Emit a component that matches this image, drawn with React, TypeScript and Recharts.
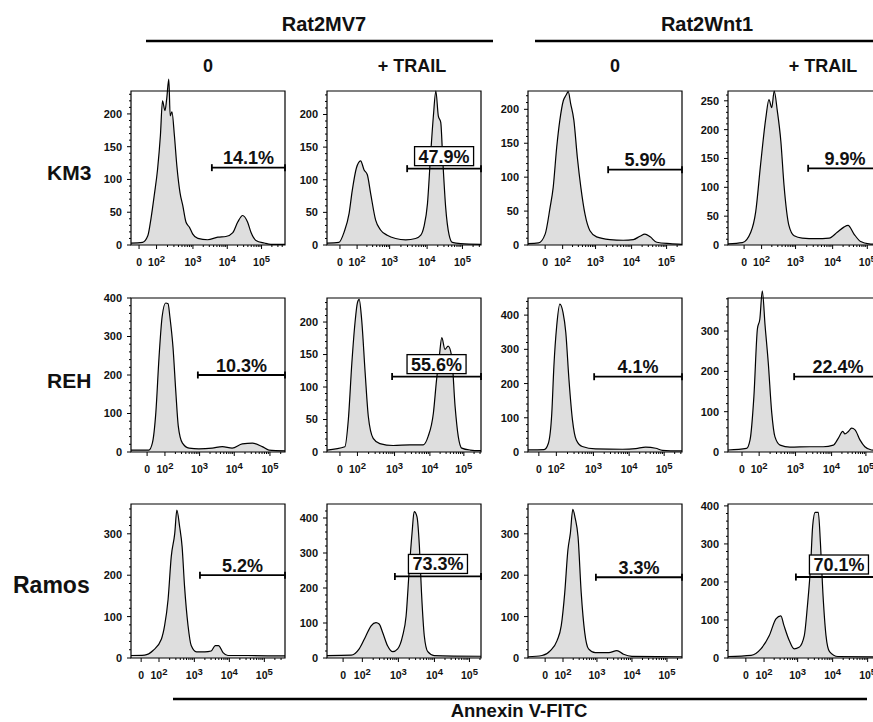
import React from 'react';
import { AreaChart, Area, XAxis, YAxis, ReferenceLine, ReferenceArea } from 'recharts';

// ---------- categories / labels ----------
const cellLines = ['KM3', 'REH', 'Ramos'];
const donors = ['Rat2MV7', 'Rat2Wnt1'];
const treatments = ['0', '+ TRAIL', '0', '+ TRAIL'];
const xAxisTitle = 'Annexin V-FITC';
const xTickExponents = ['0', '2', '3', '4', '5'];

// ---------- histogram data: [channel, count] ----------
const km3MV7Ctrl = [[1.2,3],[1.53,4],[1.68,14],[1.77,40],[1.87,78],[1.96,116],[2.04,167],[2.1,220],[2.17,205],[2.22,223],[2.28,253],[2.32,197],[2.37,203],[2.44,167],[2.51,121],[2.6,80],[2.68,60],[2.77,35],[2.87,27],[2.96,17],[3.11,10],[3.39,8],[3.68,12],[3.91,13],[4.11,19],[4.25,35],[4.39,45],[4.53,35],[4.63,19],[4.77,7],[5.01,3],[5.2,1],[5.6,1]];
const km3MV7Trail = [[1.2,3],[1.54,4],[1.69,20],[1.83,48],[1.92,83],[2.04,118],[2.16,129],[2.26,115],[2.35,108],[2.45,78],[2.59,38],[2.73,23],[2.92,15],[3.16,10],[3.45,8],[3.73,10],[3.88,15],[3.97,28],[4.07,63],[4.16,138],[4.24,198],[4.31,236],[4.38,198],[4.45,188],[4.51,128],[4.59,58],[4.69,15],[4.78,4],[5.02,2],[5.6,1]];
const km3Wnt1Ctrl = [[1.2,2],[1.5,3],[1.69,16],[1.83,55],[1.92,85],[2.02,144],[2.11,184],[2.21,213],[2.29,221],[2.35,226],[2.42,208],[2.51,184],[2.61,129],[2.71,85],[2.83,45],[2.97,21],[3.16,12],[3.54,8],[3.92,7],[4.21,8],[4.4,13],[4.54,16],[4.69,12],[4.88,4],[5.26,2],[5.6,1]];
const km3Wnt1Trail = [[1.2,2],[1.61,4],[1.85,22],[1.99,57],[2.13,139],[2.28,220],[2.37,252],[2.45,238],[2.52,267],[2.61,232],[2.71,180],[2.8,104],[2.94,34],[3.09,16],[3.32,12],[3.71,11],[4.09,12],[4.32,22],[4.51,31],[4.63,34],[4.8,19],[4.99,6],[5.23,2],[5.6,1]];
const rehMV7Ctrl = [[1.2,5],[1.71,5],[1.81,23],[1.91,103],[2.0,245],[2.09,352],[2.19,387],[2.26,385],[2.31,352],[2.4,272],[2.48,157],[2.55,68],[2.67,23],[2.86,10],[3.14,8],[3.52,10],[3.81,14],[4.09,10],[4.38,21],[4.67,23],[4.95,14],[5.14,5],[5.6,3]];
const rehMV7Trail = [[1.2,3],[1.71,8],[1.81,50],[1.91,137],[2.0,199],[2.07,230],[2.12,235],[2.19,204],[2.29,122],[2.38,55],[2.52,21],[2.71,13],[3.09,10],[3.57,11],[3.95,11],[4.09,24],[4.24,60],[4.33,111],[4.41,148],[4.48,176],[4.57,158],[4.66,163],[4.76,148],[4.86,70],[4.95,24],[5.05,6],[5.29,3],[5.6,2]];
const rehWnt1Ctrl = [[1.2,6],[1.66,7],[1.78,25],[1.88,114],[1.94,251],[2.02,368],[2.11,432],[2.2,408],[2.28,349],[2.37,212],[2.47,94],[2.58,35],[2.75,16],[3.13,9],[3.9,8],[4.28,10],[4.56,14],[4.85,11],[5.04,5],[5.6,3]];
const rehWnt1Trail = [[1.2,5],[1.73,9],[1.83,30],[1.94,138],[2.04,305],[2.11,330],[2.18,400],[2.26,313],[2.35,222],[2.45,97],[2.54,38],[2.69,17],[2.97,12],[3.54,13],[3.92,13],[4.21,17],[4.35,34],[4.48,51],[4.54,45],[4.64,51],[4.73,59],[4.83,55],[4.97,30],[5.11,13],[5.3,5],[5.6,3]];
const ramosMV7Ctrl = [[1.2,6],[1.59,7],[1.83,18],[2.07,46],[2.16,78],[2.26,142],[2.35,245],[2.45,301],[2.51,357],[2.59,317],[2.66,269],[2.73,173],[2.83,78],[2.92,30],[3.07,15],[3.31,15],[3.49,17],[3.61,30],[3.7,30],[3.83,13],[3.97,6],[4.54,6],[5.6,5]];
const ramosMV7Trail = [[1.2,7],[1.89,8],[2.12,26],[2.31,63],[2.46,92],[2.6,101],[2.69,97],[2.79,73],[2.93,35],[3.08,18],[3.22,26],[3.36,63],[3.46,120],[3.55,253],[3.63,357],[3.69,418],[3.77,404],[3.84,319],[3.9,187],[3.98,63],[4.08,18],[4.26,7],[5.6,5]];
const ramosWnt1Ctrl = [[1.2,3],[1.6,6],[1.84,18],[2.03,42],[2.15,78],[2.25,158],[2.34,261],[2.41,301],[2.48,359],[2.55,337],[2.63,293],[2.72,158],[2.82,62],[2.93,22],[3.12,13],[3.51,13],[3.74,18],[3.93,9],[4.17,4],[5.6,3]];
const ramosWnt1Trail = [[1.2,4],[1.86,7],[2.14,24],[2.38,59],[2.57,103],[2.71,111],[2.8,85],[2.95,46],[3.09,24],[3.23,28],[3.38,59],[3.47,138],[3.56,243],[3.62,348],[3.69,383],[3.78,383],[3.84,304],[3.91,173],[4.0,59],[4.1,17],[4.34,4],[5.6,3]];

const histograms = [
  [km3MV7Ctrl, km3MV7Trail, km3Wnt1Ctrl, km3Wnt1Trail],
  [rehMV7Ctrl, rehMV7Trail, rehWnt1Ctrl, rehWnt1Trail],
  [ramosMV7Ctrl, ramosMV7Trail, ramosWnt1Ctrl, ramosWnt1Trail],
];

// gate percentages, gate start channel, gate count level, boxed label
const gatePct = [
  ['14.1%', '47.9%', '5.9%', '9.9%'],
  ['10.3%', '55.6%', '4.1%', '22.4%'],
  ['5.2%', '73.3%', '3.3%', '70.1%'],
];
const gateStart = [
  [3.51, 3.49, 3.49, 3.49],
  [3.11, 3.06, 3.09, 3.09],
  [3.17, 3.14, 3.14, 3.14],
];
const gateLevel = [
  [118, 117, 111, 133],
  [200, 116, 220, 187],
  [200, 233, 195, 213],
];
const gateBoxed = [
  [false, true, false, false],
  [false, true, false, false],
  [false, true, false, true],
];

// y axis: top of frame, major step
const yTop = [
  [235, 236, 227, 267],
  [400, 237, 450, 382],
  [372, 440, 372, 405],
];
const yStep = [
  [50, 50, 50, 50],
  [100, 50, 100, 100],
  [100, 100, 100, 100],
];

// x tick channels for labels 0, 10^2, 10^3, 10^4, 10^5
const xTickPos = [
  [[1.43,1.93,2.97,3.95,4.93],[1.57,2.06,2.99,4.06,5.07],[1.69,2.19,3.13,4.16,5.16],[1.66,2.16,3.13,4.19,5.18]],
  [[1.66,2.17,3.16,4.15,5.17],[1.57,2.07,3.13,4.14,5.11],[1.51,2.01,3.07,4.09,5.09],[1.6,2.09,3.13,4.16,5.14]],
  [[1.49,2.0,3.01,4.01,5.01],[1.66,2.21,3.24,4.27,5.27],[1.69,2.2,3.17,4.17,5.17],[1.71,2.23,3.19,4.19,5.19]],
];

// ---------- layout ----------
const FONT = '"Liberation Sans", Arial, Helvetica, sans-serif';
const X_MIN = 1.2;
const X_MAX = 5.6;
const BOX_W = 154;
const BOX_H = 154;
const HEAD = 20;
const PLOT_H = BOX_H + HEAD;
const Y_AXIS_W = 40;
const X_AXIS_H = 30;
const M_TOP = 2;
const M_RIGHT = 4;
const colLeft = [131, 327, 528, 728];
const rowTop = [91, 298, 504];

const charW: Record<string, number> = { '.': 0.278, '%': 0.889 };
const textWidth = (s: string, size: number) =>
  s.split('').reduce((a, c) => a + (charW[c] ?? 0.556), 0) * size;

const near = (a: number, b: number) => Math.abs(a - b) < 1e-6;

function makeXTick(majors: number[]) {
  return (props: any) => {
    const { x, y, payload } = props;
    const v = payload.value;
    const idx = majors.findIndex((m) => near(m, v));
    const major = idx >= 0;
    return (
      <g>
        <line x1={x} x2={x} y1={y} y2={y + (major ? 4 : 2)} stroke="#000" strokeWidth={1} />
        {major && idx === 0 && (
          <text x={x} y={y + 21} textAnchor="middle" fontSize={10.5} fontWeight="bold" fontFamily={FONT} fill="#111">0</text>
        )}
        {major && idx > 0 && (
          <text x={x} y={y + 21} textAnchor="middle" fontSize={10.5} fontWeight="bold" fontFamily={FONT} fill="#111">
            10<tspan dy={-4.5} fontSize={9.5}>{xTickExponents[idx]}</tspan>
          </text>
        )}
      </g>
    );
  };
}

function makeYTick(majors: number[]) {
  return (props: any) => {
    const { x, y, payload } = props;
    const v = payload.value;
    const major = majors.some((m) => near(m, v));
    return (
      <g>
        <line x1={x - (major ? 4 : 2)} x2={x} y1={y} y2={y} stroke="#000" strokeWidth={1} />
        {major && (
          <text x={x - 9} y={y} dy="0.36em" textAnchor="end" fontSize={11} fontWeight="bold" fontFamily={FONT} fill="#111">
            {v}
          </text>
        )}
      </g>
    );
  };
}

function makeGate(label: string, boxed: boolean) {
  return (p: any) => {
    const { x1, y1, x2 } = p;
    const cx = (x1 + x2) / 2;
    const w = textWidth(label, 18) + 8;
    return (
      <g>
        <line x1={x1} y1={y1} x2={x2} y2={y1} stroke="#000" strokeWidth={1.8} />
        <line x1={x1} x2={x1} y1={y1 - 3.5} y2={y1 + 3.5} stroke="#000" strokeWidth={1.8} />
        <line x1={x2} x2={x2} y1={y1 - 3.5} y2={y1 + 3.5} stroke="#000" strokeWidth={1.8} />
        {boxed && (
          <rect x={cx - w / 2} y={y1 - 22} width={w} height={19} fill="#fff" stroke="#000" strokeWidth={1.3} />
        )}
        <text x={cx} y={boxed ? y1 - 6 : y1 - 3.5} textAnchor="middle" fontSize={18} fontWeight="bold" fontFamily={FONT} fill="#111">
          {label}
        </text>
      </g>
    );
  };
}

function Panel({ r, c }: { r: number; c: number }) {
  const data = histograms[r][c].map(([x, y]) => ({ x, y }));
  const top = yTop[r][c];
  const step = yStep[r][c];
  const yMax = (top * PLOT_H) / BOX_H;
  const yMajor: number[] = [];
  for (let v = 0; v <= top + 1e-9; v += step) yMajor.push(v);
  const minorStep = step / 5;
  const yMinor: number[] = [];
  for (let i = 1; i * minorStep < top; i++) {
    const v = i * minorStep;
    if (!yMajor.some((m) => near(m, v))) yMinor.push(v);
  }
  const xm = xTickPos[r][c];
  const xMinor: number[] = [];
  for (let k = 1; k < xm.length; k++) {
    const start = xm[k];
    const dec = k < xm.length - 1 ? xm[k + 1] - xm[k] : xm[k] - xm[k - 1];
    for (let m = 2; m <= 9; m++) {
      const v = start + Math.log10(m) * dec;
      if (v < X_MAX - 0.01 && (k === xm.length - 1 || v < xm[k + 1])) xMinor.push(v);
    }
  }
  const xTicks = [...xm, ...xMinor].sort((a, b) => a - b);
  const yTicks = [...yMajor, ...yMinor].sort((a, b) => a - b);

  return (
    <div style={{ position: 'absolute', left: colLeft[c] - Y_AXIS_W, top: rowTop[r] - HEAD - M_TOP }}>
      <AreaChart
        width={Y_AXIS_W + BOX_W + M_RIGHT}
        height={M_TOP + PLOT_H + X_AXIS_H}
        data={data}
        margin={{ top: M_TOP, right: M_RIGHT, bottom: 0, left: 0 }}
      >
        <XAxis
          dataKey="x"
          type="number"
          domain={[X_MIN, X_MAX]}
          allowDataOverflow
          ticks={xTicks}
          interval={0}
          tick={makeXTick(xm)}
          tickLine={false}
          axisLine={false}
          tickSize={0}
          tickMargin={0}
          height={X_AXIS_H}
        />
        <YAxis
          type="number"
          domain={[0, yMax]}
          allowDataOverflow
          ticks={yTicks}
          interval={0}
          tick={makeYTick(yMajor)}
          tickLine={false}
          axisLine={false}
          tickSize={0}
          tickMargin={0}
          width={Y_AXIS_W}
        />
        <Area
          type="monotone"
          dataKey="y"
          stroke="#000"
          strokeWidth={1.2}
          fill="#dedede"
          fillOpacity={1}
          dot={false}
          activeDot={false}
          isAnimationActive={false}
        />
        <ReferenceArea x1={X_MIN} x2={X_MAX} y1={0} y2={top} fill="none" fillOpacity={0} stroke="#000" strokeWidth={1.2} ifOverflow="visible" />
        <ReferenceLine
          segment={[{ x: gateStart[r][c], y: gateLevel[r][c] }, { x: X_MAX, y: gateLevel[r][c] }]}
          shape={makeGate(gatePct[r][c], gateBoxed[r][c])}
          ifOverflow="visible"
        />
      </AreaChart>
    </div>
  );
}

const txt = { fontFamily: FONT, fontWeight: 'bold' as const, fill: '#111' };

export default function App() {
  const rowLabelPos = [
    { x: 47, y: 180, size: 21 },
    { x: 47, y: 388, size: 21 },
    { x: 13, y: 593, size: 23 },
  ];
  const treatX = [208, 412, 615, 823];
  return (
    <div style={{ position: 'fixed', left: 0, top: 0, width: 873, height: 722, overflow: 'hidden', background: '#fff' }}>
      <svg width={873} height={722} style={{ position: 'absolute', left: 0, top: 0 }}>
        <text x={324} y={31} textAnchor="middle" fontSize={20} {...txt}>{donors[0]}</text>
        <line x1={146} x2={493} y1={41} y2={41} stroke="#000" strokeWidth={2.5} />
        <text x={707} y={31} textAnchor="middle" fontSize={20} {...txt}>{donors[1]}</text>
        <line x1={535} x2={885} y1={41} y2={41} stroke="#000" strokeWidth={2.5} />
        {treatments.map((t, i) => (
          <text key={i} x={treatX[i]} y={72} textAnchor="middle" fontSize={18} {...txt}>{t}</text>
        ))}
        {cellLines.map((n, i) => (
          <text key={n} x={rowLabelPos[i].x} y={rowLabelPos[i].y} fontSize={rowLabelPos[i].size} {...txt}>{n}</text>
        ))}
        <line x1={173} x2={867} y1={699} y2={699} stroke="#000" strokeWidth={2.5} />
        <text x={519} y={717} textAnchor="middle" fontSize={18.5} {...txt}>{xAxisTitle}</text>
      </svg>
      {[0, 1, 2].map((r) => [0, 1, 2, 3].map((c) => <Panel key={`${r}-${c}`} r={r} c={c} />))}
    </div>
  );
}
